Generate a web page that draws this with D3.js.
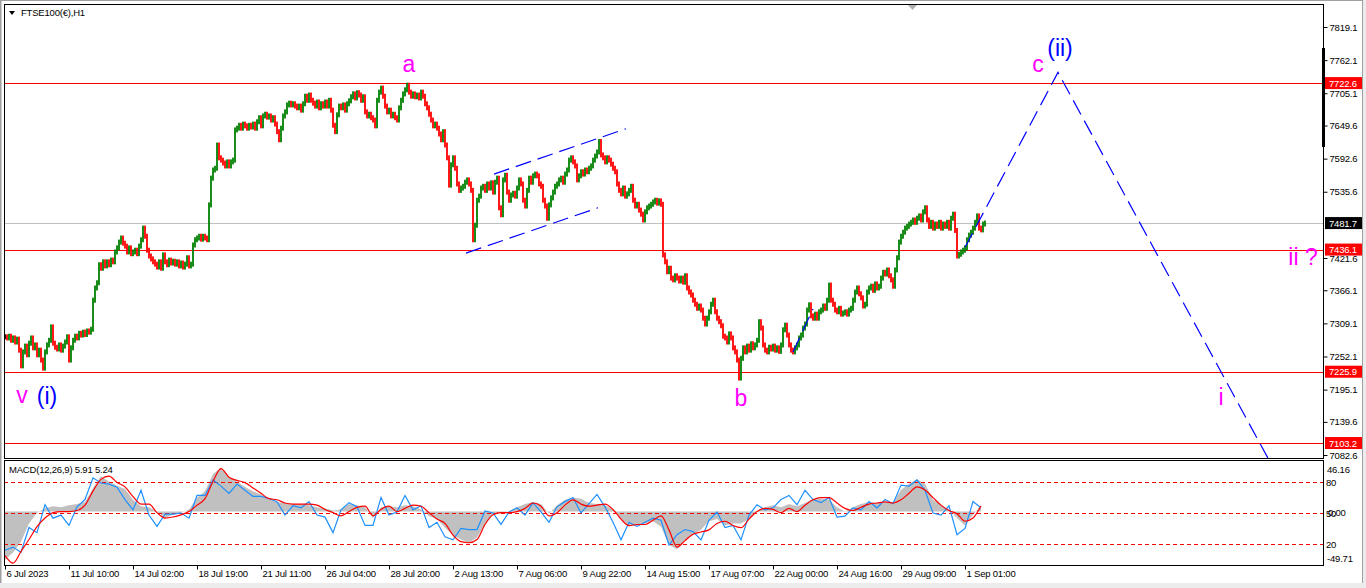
<!DOCTYPE html>
<html>
<head>
<meta charset="utf-8">
<title>FTSE100(€),H1</title>
<script src="https://cdn.jsdelivr.net/npm/d3@7"></script>
<style>
  html, body { margin: 0; padding: 0; background: #fff; }
  svg { display: block; }
  .axis text { font-family: "Liberation Sans", Arial, sans-serif; font-size: 9.5px; fill: #000; letter-spacing: -0.2px; }
  .axis line { stroke: #000; }
  .axis path { display: none; }
  .small { font-family: "Liberation Sans", Arial, sans-serif; font-size: 9.5px; letter-spacing: -0.2px; }
  .wave { font-family: "Liberation Sans", Arial, sans-serif; font-size: 23px; }
</style>
</head>
<body>
<svg id="chart" width="1366" height="588"></svg>
<script>
// closes, one value per two hours
var closeJul06 = [7286,7284,7287,7280,7284,7277,7282,7263,7236,7260,7270,7255,7275,7284,7267,7272,7255,7263,7246,7232,7260,7272,7280,7303,7275,7268,7265,7272,7263,7270,7277,7286];
var closeJul11 = [7246,7267,7280,7287,7284,7292,7289,7294,7290,7296,7294,7299,7349,7370,7379,7410,7404,7415,7408,7415,7410,7418,7415,7432,7439,7449,7456,7447,7442,7432,7439,7429];
var closeJul14 = [7432,7435,7429,7442,7453,7473,7459,7435,7425,7420,7415,7411,7406,7415,7404,7427,7415,7410,7418,7413,7416,7411,7415,7408,7413,7406,7411,7422,7408,7411,7444,7453];
var closeJul18 = [7456,7459,7454,7459,7456,7453,7513,7559,7573,7576,7616,7594,7590,7585,7580,7587,7580,7587,7590,7642,7645,7650,7645,7652,7649,7645,7650,7647,7652,7645,7656,7663];
var closeJul21 = [7649,7666,7669,7664,7666,7659,7663,7652,7639,7625,7645,7666,7673,7685,7688,7685,7687,7683,7680,7683,7676,7687,7700,7693,7702,7693,7688,7683,7690,7680,7687,7683];
var closeJul26 = [7690,7683,7693,7676,7650,7639,7668,7683,7680,7685,7676,7687,7692,7699,7704,7697,7706,7702,7693,7699,7673,7666,7669,7663,7659,7649,7693,7707,7714,7700,7683,7673];
var closeJul28 = [7676,7666,7669,7663,7659,7680,7693,7704,7711,7719,7707,7700,7704,7699,7702,7697,7707,7700,7687,7680,7669,7659,7649,7652,7645,7635,7625,7639,7616,7594,7547,7582];
var closeAug02 = [7594,7576,7549,7538,7542,7545,7552,7556,7549,7538,7453,7478,7521,7528,7542,7545,7538,7549,7542,7551,7535,7552,7559,7508,7496,7556,7564,7535,7521,7530,7533,7528];
var closeAug07 = [7542,7556,7549,7521,7511,7538,7559,7552,7563,7566,7563,7549,7545,7521,7511,7490,7513,7525,7535,7545,7549,7556,7559,7552,7566,7573,7590,7594,7587,7580,7556,7563];
var closeAug09 = [7570,7566,7573,7570,7576,7580,7590,7597,7604,7622,7599,7594,7587,7594,7590,7583,7576,7570,7549,7538,7532,7542,7528,7532,7538,7545,7521,7511,7514,7504,7497,7487];
var closeAug14 = [7501,7508,7511,7514,7518,7521,7516,7520,7514,7427,7415,7398,7404,7387,7384,7391,7387,7382,7387,7380,7391,7370,7363,7358,7349,7342,7335,7339,7332,7318,7308,7318];
var closeAug17 = [7329,7342,7349,7329,7318,7312,7305,7287,7284,7277,7291,7284,7267,7260,7246,7215,7249,7267,7260,7270,7263,7274,7267,7272,7280,7312,7301,7272,7263,7260,7268,7265];
var closeAug22 = [7270,7263,7267,7261,7272,7298,7306,7289,7272,7263,7260,7267,7272,7284,7289,7301,7308,7332,7341,7322,7318,7325,7318,7329,7332,7339,7335,7349,7375,7349,7342,7332];
var closeAug24 = [7329,7335,7325,7327,7329,7325,7332,7335,7349,7363,7370,7360,7353,7339,7342,7363,7370,7373,7366,7377,7370,7373,7387,7397,7394,7401,7391,7384,7373,7401,7422,7449];
var closeAug29 = [7459,7466,7473,7476,7480,7483,7487,7483,7490,7494,7487,7501,7508,7487,7476,7483,7473,7480,7476,7483,7473,7480,7476,7483,7473,7490,7497,7469,7425,7428,7432,7435,7439,7453,7461,7466,7473,7483,7494,7473,7470,7480,7481.7];

// time axis labels, one every 32 bars
var dateLabels = ['6 Jul 2023','11 Jul 10:00','14 Jul 02:00','18 Jul 19:00','21 Jul 11:00','26 Jul 04:00','28 Jul 20:00',
  '2 Aug 13:00','7 Aug 06:00','9 Aug 22:00','14 Aug 15:00','17 Aug 07:00','22 Aug 00:00','24 Aug 16:00','29 Aug 09:00','1 Sep 01:00'];
var dateBars = [0,32,64,96,128,160,192,224,256,288,320,352,384,416,448,480];

// price scale
var priceTicks = [7819.1,7762.1,7705.1,7649.6,7592.6,7535.6,7421.6,7366.1,7309.1,7252.1,7195.1,7139.6,7082.6];
var levelLines = [7722.6,7436.1,7225.9,7103.2];
var lastPrice = 7481.7;

// MACD(12,26,9) sub window, one value per 4 bars
var macdMain = [-45,-38,-28,-11,-1,3,5,4,6,7, 9,22,33,28,24,21,11,5,4,0, -6,-3,-1,2,13,19,35,41,32,28,
  23,19,16,12,9,8,7,7,6,4, 3,1,2,7,6,4,-6,4,5,4, 6,5,2,-4,-7,-15,-22,-26,-29,-24,
  -12,-2,-1,0,4,7,9,7,-2,6, 11,13,12,8,7,6,2,-7,-13,-13, -11,-9,-14,-31,-35,-26,-21,-17,-9,-7,
  -13,-11,-11,-7,0,4,6,4,7,5, 8,12,12,11,4,0,4,7,9,8, 9,9,20,26,30,26,11,6,2,-6, -13,-3,5.91];
var macdSignal = [-41,-48,-37,-26,-14,-6,-1,0,0,1, 6,19,30,33,27,23,14,7,7,-1, -6,-5,-3,0,6,12,28,40,32,29,
  27,22,17,12,11,8,7,7,7,6, 2,-1,-4,0,4,5,-4,2,5,0, 3,6,5,-1,-7,-11,-22,-28,-29,-26,
  -12,-3,-1,-1,0,3,8,5,-4,-1, 6,11,7,5,6,7,2,-7,-13,-12, -12,-8,-4,-17,-33,-27,-21,-19,-17,-11,
  -9,-13,-15,-7,0,3,2,-1,3,0, 6,11,13,13,8,3,1,4,7,8, 9,8,11,17,23,20,13,6,1,-2, -9,-6,5.24];
var oscLine = [14,17,12,36,31,58,45,48,38,56, 63,84,79,78,75,63,53,72,48,37, 49,49,50,45,67,67,82,76,69,78,
  72,66,66,64,61,48,57,55,61,48, 46,31,53,60,56,38,38,65,48,51, 67,53,57,36,41,27,24,35,34,34,
  52,50,39,51,55,48,60,51,41,56, 61,65,50,59,68,56,41,24,41,37, 41,45,43,19,29,34,32,24,43,51,
  36,38,24,48,58,53,55,63,67,58, 72,63,60,65,46,47,55,53,61,55, 63,59,77,76,82,72,50,48,57,29, 35,61,55];
var oscLevels = [80,50,20];
var macdRange = [-49.71, 46.16];

// drawn objects: [bar, price]
var channelUpper = [[244.5,7566],[310.5,7644]];
var channelLower = [[230.5,7430],[296.5,7508]];
var smallLine = [[394,7260],[404,7334]];
var waveProjection = [[480,7440],[526.5,7741],[631.5,7077]];

// wave labels
var waveText  = ['a','b','c','(ii)','ii ?','i','v','(i)'];
var waveBar   = [202,368,516.5,527.5,649,608,8.5,21];
var wavePrice = [7741.7,7166.9,7741.7,7769.2,7409.5,7168.6,7172,7170.3];


var closes = [].concat(closeJul06, closeJul11, closeJul14, closeJul18, closeJul21, closeJul26, closeJul28,
  closeAug02, closeAug07, closeAug09, closeAug14, closeAug17, closeAug22, closeAug24, closeAug29);

var plotLeft = 4, plotRight = 1323, plotTop = 4, plotBottom = 458;
var macdTop = 460, macdBottom = 565;

var svg = d3.select('#chart');

var x = d3.scaleLinear().domain([0, 659]).range([5, 1323]);
var y = d3.scaleLinear().domain([7082.6, 7819.1]).range([455, 27]);
var yMacd = d3.scaleLinear().domain(macdRange).range([565, 462]);
var yOsc = d3.scaleLinear().domain([20, 80]).range([544, 482]);

// window frame
svg.append('rect').attr('x', 0).attr('y', 583).attr('width', 1366).attr('height', 5).attr('fill', '#ececec');
svg.append('rect').attr('x', 1363).attr('y', 0).attr('width', 3).attr('height', 588).attr('fill', '#ececec');
svg.append('line').attr('x1', 0.5).attr('x2', 0.5).attr('y1', 0).attr('y2', 583).attr('stroke', '#a0a0a0').attr('stroke-width', 2);
svg.append('line').attr('x1', 0).attr('x2', 1363).attr('y1', 0.5).attr('y2', 0.5).attr('stroke', '#a0a0a0');
svg.append('line').attr('x1', 1362.5).attr('x2', 1362.5).attr('y1', 0).attr('y2', 583).attr('stroke', '#a0a0a0');

svg.append('defs').append('clipPath').attr('id', 'plotClip')
  .append('rect').attr('x', plotLeft).attr('y', plotTop).attr('width', plotRight - plotLeft).attr('height', plotBottom - plotTop);

var main = svg.append('g').attr('clip-path', 'url(#plotClip)');

// horizontal lines
main.append('line').attr('x1', plotLeft).attr('x2', plotRight)
  .attr('y1', Math.round(y(lastPrice)) + 0.5).attr('y2', Math.round(y(lastPrice)) + 0.5)
  .attr('stroke', '#c0c0c0');
main.selectAll('line.level').data(levelLines).enter().append('line').attr('class', 'level')
  .attr('x1', plotLeft).attr('x2', plotRight)
  .attr('y1', function (d) { return Math.round(y(d)) + 0.5; })
  .attr('y2', function (d) { return Math.round(y(d)) + 0.5; })
  .attr('stroke', '#ff0000');

// bars: open is previous close
var bars = closes.map(function (c, i) { return { i: i, o: i ? closes[i - 1] : c, c: c }; });
main.append('g').selectAll('rect').data(bars).enter().append('rect')
  .attr('x', function (d) { return x(d.i) - 0.9; })
  .attr('width', 1.8)
  .attr('y', function (d) { return y(Math.max(d.o, d.c)) - 2.5; })
  .attr('height', function (d) { return Math.abs(y(d.o) - y(d.c)) + 5; })
  .attr('fill', function (d) { return d.c > d.o ? '#008000' : (d.c < d.o ? '#ff0000' : '#000'); });

// trend lines
var trend = d3.line().x(function (d) { return x(d[0]); }).y(function (d) { return y(d[1]); });
[channelUpper, channelLower, smallLine, waveProjection].forEach(function (pts) {
  main.append('path').attr('d', trend(pts)).attr('fill', 'none')
    .attr('stroke', '#0000ff').attr('stroke-width', 1.2).attr('stroke-dasharray', '16,7');
});

// wave labels
main.selectAll('text.wave').data(waveText).enter().append('text').attr('class', 'wave')
  .attr('x', function (d, i) { return x(waveBar[i]); })
  .attr('y', function (d, i) { return y(wavePrice[i]); })
  .attr('text-anchor', 'middle')
  .attr('fill', function (d) { return d.charAt(0) === '(' ? '#0000ff' : '#ff00ff'; })
  .text(function (d) { return d; });

// title
svg.append('path').attr('d', 'M9,11L15,11L12,15Z').attr('fill', '#000');
svg.append('text').attr('class', 'small').attr('x', 21).attr('y', 16).text('FTSE100(€),H1');
svg.append('path').attr('d', 'M908,5L917,5L912.5,10Z').attr('fill', '#b0b0b0');

// MACD window
var macdG = svg.append('g');
var macdPts = macdMain.map(function (v, k) { return { i: k * 4, v: v }; });
macdG.append('path')
  .attr('d', d3.area().x(function (d) { return x(d.i); }).y0(yMacd(0)).y1(function (d) { return yMacd(d.v); })(macdPts))
  .attr('fill', '#c0c0c0');
macdG.selectAll('line.lvl').data(oscLevels).enter().append('line').attr('class', 'lvl')
  .attr('x1', plotLeft).attr('x2', plotRight)
  .attr('y1', function (d) { return Math.round(yOsc(d)) + 0.5; })
  .attr('y2', function (d) { return Math.round(yOsc(d)) + 0.5; })
  .attr('stroke', '#ff0000').attr('stroke-dasharray', '4,3');
macdG.append('path')
  .attr('d', d3.line().x(function (d, k) { return x(k * 4); }).y(function (d) { return yOsc(d); })(oscLine))
  .attr('fill', 'none').attr('stroke', '#1e90ff').attr('stroke-width', 1.2);
macdG.append('path')
  .attr('d', d3.line().curve(d3.curveMonotoneX).x(function (d, k) { return x(k * 4); }).y(function (d) { return yMacd(d); })(macdSignal))
  .attr('fill', 'none').attr('stroke', '#ff0000').attr('stroke-width', 1.2);
svg.append('text').attr('class', 'small').attr('x', 9).attr('y', 473)
  .text('MACD(12,26,9) ' + macdMain[macdMain.length - 1].toFixed(2) + ' ' + macdSignal[macdSignal.length - 1].toFixed(2));

// frames
svg.append('rect').attr('x', plotLeft + 0.5).attr('y', plotTop + 0.5)
  .attr('width', plotRight - plotLeft).attr('height', plotBottom - plotTop)
  .attr('fill', 'none').attr('stroke', '#000');
svg.append('rect').attr('x', plotLeft + 0.5).attr('y', macdTop + 0.5)
  .attr('width', plotRight - plotLeft).attr('height', macdBottom - macdTop)
  .attr('fill', 'none').attr('stroke', '#000');
svg.append('rect').attr('x', plotRight - 1).attr('y', 48).attr('width', 3).attr('height', 99).attr('fill', '#000');

// price axis
svg.append('g').attr('class', 'axis').attr('transform', 'translate(' + (plotRight + 0.5) + ',0)')
  .call(d3.axisRight(y).tickValues(priceTicks).tickSize(4).tickPadding(2).tickFormat(d3.format('.1f')));

function tag(v, bg) {
  var g = svg.append('g');
  g.append('rect').attr('x', plotRight + 2).attr('y', y(v) - 6).attr('width', 37).attr('height', 12).attr('fill', bg);
  g.append('text').attr('class', 'small').attr('x', plotRight + 6).attr('y', y(v) + 3.5).attr('fill', '#fff')
    .text(d3.format('.1f')(v));
}
levelLines.forEach(function (v) { tag(v, '#ff0000'); });
tag(lastPrice, '#000');

// MACD axis labels ("50" and "0.00" share one row, as in the terminal)
var macdAxis = svg.append('g').attr('class', 'small');
macdAxis.append('text').attr('x', plotRight + 4).attr('y', yMacd(macdRange[1]) + 11).text(macdRange[1].toFixed(2));
macdAxis.append('text').attr('x', plotRight + 4).attr('y', yMacd(macdRange[0]) - 3).text(macdRange[0].toFixed(2));
macdAxis.append('text').attr('x', plotRight + 5).attr('y', yMacd(0) + 4).text('0.00');
macdAxis.selectAll('text.lv').data(oscLevels).enter().append('text').attr('class', 'lv')
  .attr('x', plotRight + 3).attr('y', function (d) { return yOsc(d) + 4; })
  .text(function (d) { return d; });

// time axis
var xg = svg.append('g').attr('class', 'axis').attr('transform', 'translate(0,' + (macdBottom + 0.5) + ')')
  .call(d3.axisBottom(x).tickValues(dateBars).tickSize(4).tickPadding(1)
    .tickFormat(function (d, i) { return dateLabels[i]; }));
xg.selectAll('text').attr('text-anchor', 'start').attr('dx', 1);
</script>
</body>
</html>
